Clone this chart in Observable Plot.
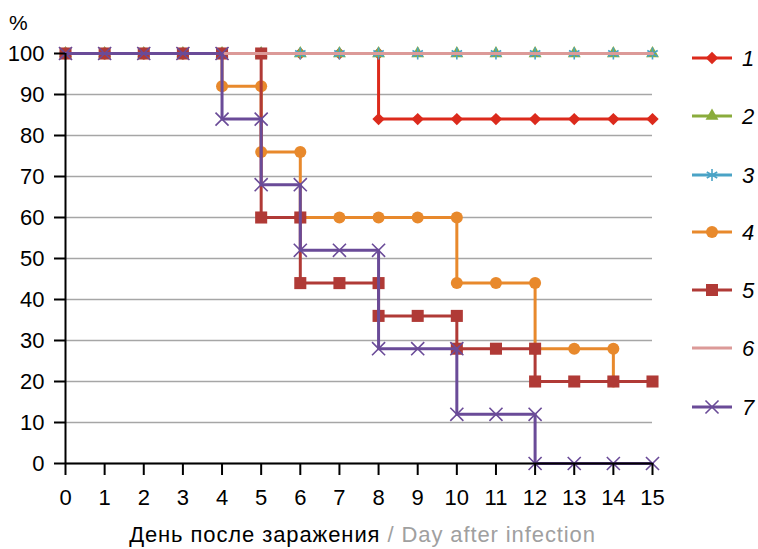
<!DOCTYPE html>
<html><head><meta charset="utf-8">
<script src="https://cdn.jsdelivr.net/npm/d3@7"></script>
<script src="https://cdn.jsdelivr.net/npm/@observablehq/plot@0.6"></script>
<style>
body{margin:0;background:#fff;font-family:"Liberation Sans",Arial,sans-serif;}
#wrap{position:relative;width:758px;height:549px;}
#pct{position:absolute;left:9px;top:12px;font-size:21px;line-height:1;}
#xlab{position:absolute;left:0;width:725px;text-align:center;top:524px;font-size:22px;letter-spacing:0.9px;white-space:nowrap;line-height:1;}
#xlab .en{color:#a0a0a0;}
#legend{position:absolute;left:0;top:0;}
</style></head>
<body><div id="wrap"><div id="pct">%</div><div id="xlab">День после заражения<span class="en"> / Day after infection</span></div></div>
<script>
const days = [0,1,2,3,4,5,6,7,8,9,10,11,12,13,14,15];
const yTicks = [0,10,20,30,40,50,60,70,80,90,100];
const seriesNames = ["1","2","3","4","5","6","7"];
const colors = ["#dc2a1c","#8aac3c","#4aa3c6","#e8892c","#b03a36","#dc9a98","#6a4b98"];
const symbols = ["diamond2","triangle","asterisk","circle","square",null,"times"];

const s1x = [0,1,2,3,4,5,6,7,8,8,9,10,11,12,13,14,15];
const s1y = [100,100,100,100,100,100,100,100,100,84,84,84,84,84,84,84,84];
const s2x = days;
const s2y = [100,100,100,100,100,100,100,100,100,100,100,100,100,100,100,100];
const s3x = days;
const s3y = [100,100,100,100,100,100,100,100,100,100,100,100,100,100,100,100];
const s4x = [0,1,2,3,4,4,5,5,6,6,7,8,9,10,10,11,12,12,13,14,14];
const s4y = [100,100,100,100,100,92,92,76,76,60,60,60,60,60,44,44,44,28,28,28,20];
const s5x = [0,1,2,3,4,5,5,6,6,7,8,8,9,10,10,11,12,12,13,14,15];
const s5y = [100,100,100,100,100,100,60,60,44,44,44,36,36,36,28,28,28,20,20,20,20];
const s6x = days;
const s6y = [100,100,100,100,100,100,100,100,100,100,100,100,100,100,100,100];
const s7x = [0,1,2,3,4,4,5,5,6,6,7,8,8,9,10,10,11,12,12,13,14,15];
const s7y = [100,100,100,100,100,84,84,68,68,52,52,52,28,28,28,12,12,12,0,0,0,0];

const xs = [s1x,s2x,s3x,s4x,s5x,s6x,s7x];
const ys = [s1y,s2y,s3y,s4y,s5y,s6y,s7y];
const rows = [];
xs.forEach((x,i)=>x.forEach((d,j)=>rows.push({s:seriesNames[i],i,day:d,v:ys[i][j]})));

const symR = {diamond2:5.6,triangle:4.8,asterisk:5.7,circle:6,square:6.8,times:6};

const marks = [
  Plot.gridY(yTicks,{stroke:"#a6a6a6",strokeOpacity:1,strokeWidth:1.5}),
];
seriesNames.forEach((n,i)=>{
  const data = rows.filter(r=>r.i===i);
  marks.push(Plot.line(data,{x:"day",y:"v",stroke:colors[i],strokeWidth:3,curve:"linear"}));
  if(symbols[i]){
    const sym = symbols[i];
    const opts = {x:"day",y:"v",symbol:()=>sym,r:symR[sym]};
    if(sym==="asterisk"||sym==="times"){opts.stroke=colors[i];opts.strokeWidth=1.6;opts.fill="none";}
    else {opts.fill=colors[i];opts.stroke="none";}
    marks.push(Plot.dot(data,opts));
  }
});
marks.push(Plot.ruleX([0],{stroke:"#000",strokeWidth:2}));
marks.push(Plot.ruleY([0],{stroke:"#000",strokeWidth:2}));
marks.push(Plot.axisY(yTicks,{tickSize:11,tickPadding:10,fontSize:22,label:null,stroke:"#000",strokeWidth:2,color:"#000"}));
marks.push(Plot.axisX(days,{tickSize:12,tickPadding:14,fontSize:22,label:null,stroke:"#000",strokeWidth:2,color:"#000"}));

const chart = Plot.plot({
  width:758,height:549,
  marginLeft:65,marginRight:106,marginTop:53,marginBottom:86,
  x:{domain:[0,15]},
  y:{domain:[0,100]},
  symbol:{type:"identity"},
  style:{fontFamily:"Liberation Sans, Arial, sans-serif",fontSize:"22px",background:"#fff"},
  marks
});
const wrap = document.getElementById("wrap");
wrap.insertBefore(chart, wrap.firstChild);

// legend
const legendY = [58,116,175,232,290,348,407];
const svg = d3.select(wrap).append("svg").attr("id","legend").attr("width",758).attr("height",549);
const symMap = {diamond2:d3.symbolDiamond2,triangle:d3.symbolTriangle,asterisk:d3.symbolAsterisk,circle:d3.symbolCircle,square:d3.symbolSquare,times:d3.symbolTimes};
seriesNames.forEach((n,i)=>{
  const g = svg.append("g").attr("transform",`translate(0,${legendY[i]})`);
  g.append("line").attr("x1",692).attr("x2",732).attr("y1",0).attr("y2",0).attr("stroke",colors[i]).attr("stroke-width",3);
  if(symbols[i]){
    const sym = symbols[i];
    const r = symR[sym];
    const p = g.append("path").attr("transform","translate(712,0)").attr("d",d3.symbol(symMap[sym],Math.PI*r*r)());
    if(sym==="asterisk"||sym==="times") p.attr("fill","none").attr("stroke",colors[i]).attr("stroke-width",1.6);
    else p.attr("fill",colors[i]);
  }
  g.append("text").attr("x",742).attr("y",8).attr("font-size",22).attr("font-style","italic").attr("font-family","Liberation Sans, Arial, sans-serif").text(n);
});
</script></body></html>
